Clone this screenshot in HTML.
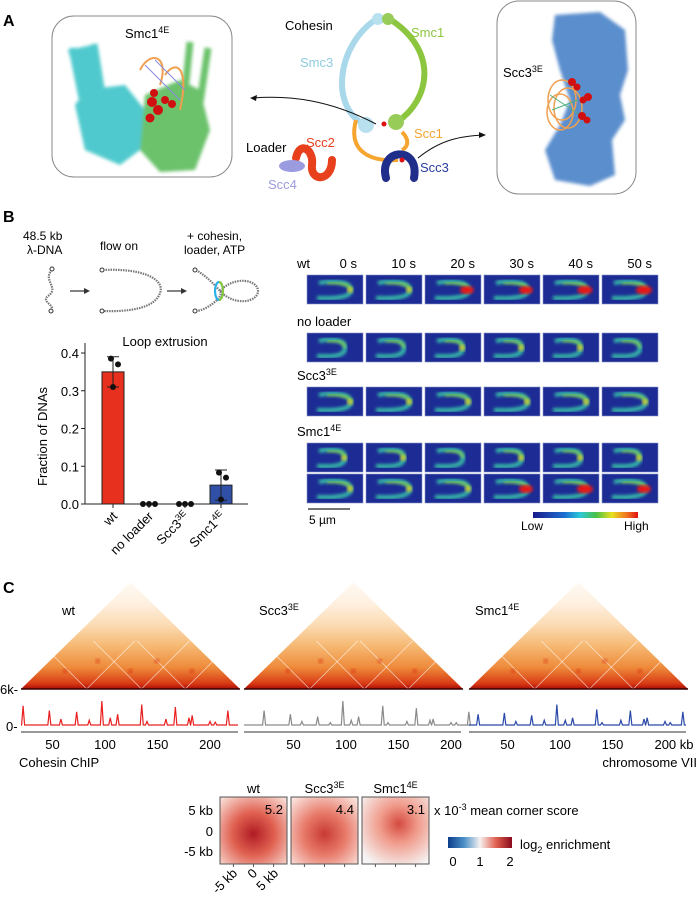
<!DOCTYPE html>
<html><head><meta charset="utf-8">
<style>
body{margin:0;background:#fff;}
svg{display:block;font-family:"Liberation Sans",Arial,sans-serif;}
</style></head>
<body>
<svg id="fig" width="699" height="899" viewBox="0 0 699 899" xmlns="http://www.w3.org/2000/svg">
<defs>
  <filter id="blur1"><feGaussianBlur stdDeviation="1.6"/></filter>
  <filter id="blur2"><feGaussianBlur stdDeviation="2.5"/></filter>
  <linearGradient id="triGrad" x1="0" y1="1" x2="0" y2="0">
    <stop offset="0" stop-color="#a80c06"/>
    <stop offset="0.05" stop-color="#d83a14"/>
    <stop offset="0.2" stop-color="#ee8a3a"/>
    <stop offset="0.4" stop-color="#f6b872"/>
    <stop offset="0.6" stop-color="#fbdcb4"/>
    <stop offset="0.8" stop-color="#fef0e0"/>
    <stop offset="1" stop-color="#fffaf4"/>
  </linearGradient>
  <linearGradient id="jetGrad" x1="0" y1="0" x2="1" y2="0">
    <stop offset="0" stop-color="#1a1a8a"/><stop offset="0.3" stop-color="#1c6fd0"/>
    <stop offset="0.45" stop-color="#2ec8d8"/><stop offset="0.6" stop-color="#48c048"/>
    <stop offset="0.75" stop-color="#e8e020"/><stop offset="0.9" stop-color="#f07020"/>
    <stop offset="1" stop-color="#e01010"/>
  </linearGradient>
  <linearGradient id="rbGrad" x1="0" y1="0" x2="1" y2="0">
    <stop offset="0" stop-color="#0c3d8a"/><stop offset="0.25" stop-color="#4a90c8"/>
    <stop offset="0.5" stop-color="#f6f2f0"/><stop offset="0.75" stop-color="#e06050"/>
    <stop offset="1" stop-color="#8a0a1c"/>
  </linearGradient>
  <radialGradient id="pu1" cx="0.5" cy="0.55" r="0.7"><stop offset="0" stop-color="#b01c24"/><stop offset="0.45" stop-color="#e06050"/><stop offset="1" stop-color="#f8dcd4"/></radialGradient>
  <radialGradient id="pu2" cx="0.5" cy="0.55" r="0.7"><stop offset="0" stop-color="#c83a34"/><stop offset="0.45" stop-color="#e87a6a"/><stop offset="1" stop-color="#fae4de"/></radialGradient>
  <radialGradient id="pu3" cx="0.55" cy="0.4" r="0.7"><stop offset="0" stop-color="#d44a40"/><stop offset="0.4" stop-color="#f09a8a"/><stop offset="1" stop-color="#f6f4f4"/></radialGradient>
</defs>

<!-- PANEL A -->
<text x="3" y="26" font-size="16" font-weight="bold">A</text>
<g>
  <rect x="52" y="16" width="180" height="161" rx="22" fill="#fff" stroke="#888" stroke-width="1"/>
  <g filter="url(#blur1)" opacity="0.9">
    <path d="M68,50 L82,95 L75,105 L85,150 L120,165 L140,150 L145,110 L125,85 L100,88 L92,45 Z" fill="#3cc4c8"/>
    <path d="M72,48 l10,50 M94,44 l8,50" stroke="#3cc4c8" stroke-width="7"/>
    <path d="M145,95 L180,80 L200,90 L210,130 L195,170 L160,172 L140,150 Z" fill="#5cbc5c"/>
    <path d="M190,42 l-6,60 M208,48 l-8,55" stroke="#5cbc5c" stroke-width="7"/>
  </g>
  <path d="M140,70 C150,50 170,55 160,85 M165,75 C175,60 190,65 180,110" fill="none" stroke="#f0a050" stroke-width="2"/>
  <path d="M145,65 L180,100 M155,60 L185,90" stroke="#8a8ae0" stroke-width="1"/>
  <g fill="#d01010">
    <circle cx="152" cy="102" r="5"/><circle cx="158" cy="110" r="5"/><circle cx="150" cy="118" r="4.5"/>
    <circle cx="165" cy="100" r="4"/><circle cx="172" cy="104" r="4"/><circle cx="154" cy="93" r="4"/>
  </g>
  <text x="125" y="38" font-size="13">Smc1<tspan dy="-5" font-size="9">4E</tspan></text>
</g>

<g>
  <text x="285" y="30" font-size="13">Cohesin</text>
  <path d="M378,18 C335,45 330,110 366,125" fill="none" stroke="#a8d8ea" stroke-width="6"/>
  <path d="M388,18 C440,50 430,100 397,122" fill="none" stroke="#8cc63f" stroke-width="6"/>
  <circle cx="378" cy="19" r="6" fill="#b8e0ee"/><circle cx="388" cy="19" r="6" fill="#98cc58"/>
  <path d="M356,120 C348,150 368,162 398,160" fill="none" stroke="#f7a531" stroke-width="4"/>
  <path d="M402,132 C410,140 408,147 402,150" fill="none" stroke="#f7a531" stroke-width="4"/>
  <circle cx="366" cy="125" r="8" fill="#b8e0ee"/><circle cx="396" cy="122" r="8" fill="#98cc58"/>
  <circle cx="384" cy="124" r="2.5" fill="#e01010"/>
  <path d="M386,178 C378,148 420,145 414,178" fill="none" stroke="#1f2e8a" stroke-width="8" stroke-linecap="round"/>
  <circle cx="402" cy="160" r="2.5" fill="#e01010"/>
  <path d="M296,158 C300,140 314,150 312,165 C310,182 332,182 332,160" fill="none" stroke="#e8401c" stroke-width="8" stroke-linecap="round"/>
  <ellipse cx="292" cy="166" rx="13" ry="6" fill="#9b9be0"/>
  <text x="411" y="37" font-size="13" fill="#8cc63f">Smc1</text>
  <text x="300" y="67" font-size="13" fill="#8ccbe0">Smc3</text>
  <text x="414" y="138" font-size="13" fill="#f7a531">Scc1</text>
  <text x="420" y="172" font-size="13" fill="#2a3ca0">Scc3</text>
  <text x="246" y="152" font-size="13">Loader</text>
  <text x="306" y="147" font-size="13" fill="#e8401c">Scc2</text>
  <text x="268" y="189" font-size="13" fill="#9b9be0">Scc4</text>
  <path d="M376,124 C330,100 290,95 252,98" fill="none" stroke="#111" stroke-width="1"/>
  <path d="M250,98 l7,-3 l-1,6 z" fill="#111"/>
  <path d="M418,158 C440,140 460,136 484,135" fill="none" stroke="#111" stroke-width="1"/>
  <path d="M486,135 l-7,-3 l0,6 z" fill="#111"/>
</g>

<g>
  <rect x="497" y="1" width="139" height="193" rx="22" fill="#fff" stroke="#888" stroke-width="1"/>
  <g filter="url(#blur1)" opacity="0.9">
    <path d="M555,15 L600,12 L625,30 L628,70 L620,95 L625,120 L612,140 L615,175 L590,186 L555,180 L545,150 L560,125 L570,100 L560,70 L552,40 Z" fill="#4a82c8"/>
  </g>
  <g fill="none" stroke="#f0a050" stroke-width="1.5">
    <ellipse cx="562" cy="100" rx="14" ry="20"/><ellipse cx="568" cy="108" rx="14" ry="20"/><ellipse cx="560" cy="112" rx="13" ry="18"/>
  </g>
  <path d="M550,95 L580,115 M552,110 L578,100" stroke="#50b080" stroke-width="1"/>
  <g fill="#d01010"><circle cx="572" cy="82" r="4"/><circle cx="577" cy="87" r="3.5"/><circle cx="588" cy="97" r="4"/><circle cx="583" cy="100" r="3.5"/><circle cx="582" cy="116" r="4"/><circle cx="587" cy="120" r="3.5"/></g>
  <text x="503" y="77" font-size="13">Scc3<tspan dy="-5" font-size="9">3E</tspan></text>
</g>

<!-- PANEL B -->
<text x="3" y="222" font-size="16" font-weight="bold">B</text>
<g font-size="12">
  <text x="23" y="240">48.5 kb</text>
  <text x="27" y="254">λ-DNA</text>
  <text x="100" y="250">flow on</text>
  <text x="187" y="240">+ cohesin,</text>
  <text x="184" y="254">loader, ATP</text>
  <path d="M52,270 C42,280 60,288 48,296 C40,302 58,306 50,311" fill="none" stroke="#777" stroke-width="2.2" stroke-dasharray="1.5 1"/>
  <circle cx="52" cy="269" r="2" fill="#fff" stroke="#333"/><circle cx="51" cy="311" r="2" fill="#fff" stroke="#333"/>
  <path d="M70,291 h16" stroke="#333" stroke-width="1.2"/><path d="M90,291 l-6,-3 v6 z" fill="#333"/>
  <path d="M103,270 C145,268 165,280 160,293 C155,308 130,312 103,311" fill="none" stroke="#777" stroke-width="2.2" stroke-dasharray="1.5 1"/>
  <circle cx="102" cy="270" r="2" fill="#fff" stroke="#333"/><circle cx="102" cy="311" r="2" fill="#fff" stroke="#333"/>
  <path d="M167,291 h16" stroke="#333" stroke-width="1.2"/><path d="M187,291 l-6,-3 v6 z" fill="#333"/>
  <path d="M196,270 C205,275 215,285 220,291 C225,297 205,311 196,311" fill="none" stroke="#777" stroke-width="2.2" stroke-dasharray="1.5 1"/>
  <path d="M220,291 C235,275 258,280 258,291 C258,302 235,307 220,291" fill="none" stroke="#777" stroke-width="2.2" stroke-dasharray="1.5 1"/>
  <circle cx="195" cy="270" r="2" fill="#fff" stroke="#333"/><circle cx="195" cy="311" r="2" fill="#fff" stroke="#333"/>
  <ellipse cx="219" cy="291" rx="4" ry="9" fill="none" stroke="#2ab0e8" stroke-width="2.2"/>
  <path d="M219,282 a4,9 0 0 1 0,18" fill="none" stroke="#8cc63f" stroke-width="2.2"/>
</g>

<g id="barchart"></g>
<g id="imgGrid"></g>

<g>
  <line x1="308" y1="509" x2="350" y2="509" stroke="#222" stroke-width="1.2"/>
  <text x="309" y="524" font-size="12">5 µm</text>
  <rect x="533" y="512" width="105" height="6" fill="url(#jetGrad)"/>
  <text x="521" y="530" font-size="12">Low</text>
  <text x="624" y="530" font-size="12">High</text>
</g>

<!-- PANEL C -->
<text x="3" y="593" font-size="16" font-weight="bold">C</text>
<g id="hic"></g>
<g id="pileup"></g>
</svg>

<script>
const NS="http://www.w3.org/2000/svg";
function mk(tag,attrs,parent){const e=document.createElementNS(NS,tag);for(const k in attrs)e.setAttribute(k,attrs[k]);parent.appendChild(e);return e;}

// ---------- Bar chart data ----------
const barCategories=["wt","no loader","Scc3","Smc1"];
const barSup=["","","3E","4E"];
const barValues=[0.35,0,0,0.05];
const barErrLow=[0.31,0,0,0.01];
const barErrHigh=[0.39,0,0,0.09];
const barPoints=[[0.385,0.37,0.31],[0,0,0],[0,0,0],[0.083,0.07,0.012]];
const barColors=["#e8301e","#e8301e","#e8301e","#3050a8"];
const yTicks=[0.0,0.1,0.2,0.3,0.4];

(function(){
  const g=document.getElementById('barchart');
  const x0=85,x1=248,yB=504,yT=353;
  const yS=v=>yB-(v/0.4)*(yB-yT);
  const xS=i=>113+i*36;
  const t=mk('text',{x:165,y:346,'font-size':13,'text-anchor':'middle'},g);t.textContent="Loop extrusion";
  
  
  const yl=mk('text',{x:0,y:0,'font-size':13,'text-anchor':'middle',transform:`translate(47,${(yB+yT)/2+8}) rotate(-90)`},g);yl.textContent="Fraction of DNAs";
  
  
  mk('line',{x1:x0,y1:yT-10,x2:x0,y2:yB,stroke:'#222','stroke-width':1},g);
  mk('line',{x1:x0,y1:yB,x2:x1,y2:yB,stroke:'#222','stroke-width':1},g);
  yTicks.forEach(v=>{
    mk('line',{x1:x0-4,y1:yS(v),x2:x0,y2:yS(v),stroke:'#222'},g);
    const tl=mk('text',{x:x0-6,y:yS(v)+5,'font-size':13,'text-anchor':'end'},g);tl.textContent=v.toFixed(1);
    
    
  });
  barCategories.forEach((c,i)=>{
    const cx=xS(i);
    if(barValues[i]>0){
      const r=mk('rect',{x:cx-11,y:yS(barValues[i]),width:22,height:yB-yS(barValues[i]),fill:barColors[i],stroke:'#222','stroke-width':1},g);
      
      
      const e=mk('path',{d:`M${cx},${yS(barErrLow[i])}V${yS(barErrHigh[i])}M${cx-6},${yS(barErrHigh[i])}h12M${cx-6},${yS(barErrLow[i])}h12`,stroke:'#222',fill:'none','stroke-width':1},g);
      
      
    }
    barPoints[i].forEach((p,j)=>{
      const d=mk('circle',{cx:cx-6+j*6+(barValues[i]>0?[-2,5,0][j]-(j*6-6):0),cy:yS(p),r:3,fill:'#111'},g);
      
      
    });
    mk('line',{x1:cx,y1:yB,x2:cx,y2:yB+4,stroke:'#222'},g);
    const lab=mk('text',{x:0,y:0,'font-size':13,'text-anchor':'end',transform:`translate(${cx+5},${yB+13}) rotate(-45)`},g);
    lab.textContent=c;
    if(barSup[i]){const ts=mk('tspan',{dy:-5,'font-size':9},lab);ts.textContent=barSup[i];}
    
    
  });
})();

// ---------- Image grid ----------
const timeLabels=["0 s","10 s","20 s","30 s","40 s","50 s"];
const rowLabels=["wt","no loader","Scc3","Smc1",""];
const rowSup=["","","3E","4E",""];
const rowTops=[275,333,387,443,474];
const spotIntensity=[[0.2,0.1,0.8,0.8,0.9,1.0],[0,0,0.1,0.1,0.1,0],[0.15,0.1,0.1,0.15,0.1,0.15],[0.1,0.05,0,0.15,0.1,0.1],[0.3,0.2,0.1,0.8,1.0,0.8]];
(function(){
  const g=document.getElementById('imgGrid');
  const colX=i=>307+i*59;
  timeLabels.forEach((t,i)=>{const e=mk('text',{x:colX(i)+50,y:268,'font-size':13,'text-anchor':'end'},g);e.textContent=t;
    
    });
  const lblY=[268,326,380,436];
  rowLabels.forEach((l,r)=>{
    if(l){const e=mk('text',{x:297,y:lblY[r],'font-size':13},g);e.textContent=l;
      if(rowSup[r]){const s=mk('tspan',{dy:-5,'font-size':9},e);s.textContent=rowSup[r];}
      
      }
    for(let c=0;c<6;c++){
      const x=colX(c),y=rowTops[r];
      const cell=mk('g',{},g);
      
      
      mk('rect',{x:x,y:y,width:56,height:29,fill:'#1c2c94',stroke:'#8890c8','stroke-width':0.6},cell);
      const tip=x+44-(r==1||r==3?6:0);
      mk('path',{d:`M${x+12},${y+8} C${x+30},${y+4} ${tip},${y+8} ${tip},${y+15} C${tip},${y+22} ${x+30},${y+24} ${x+10},${y+23}`,fill:'none',stroke:'#38c0a8','stroke-width':4,filter:'url(#blur1)'},cell);
      mk('path',{d:`M${x+20},${y+8} C${x+32},${y+7} ${tip},${y+10} ${tip},${y+15}`,fill:'none',stroke:'#9cd838','stroke-width':2,filter:'url(#blur1)'},cell);
      const s=spotIntensity[r][c];
      if(s>0.3){mk('ellipse',{cx:tip-2,cy:y+15,rx:3+5*s,ry:2+2.5*s,fill:'#e81818',filter:'url(#blur1)'},cell);}
      else if(s>0){mk('circle',{cx:tip-1,cy:y+15,r:3,fill:'#e8d020',opacity:0.8,filter:'url(#blur1)'},cell);}
    }
  });
})();

// ---------- Hi-C + ChIP ----------
const chipPositions=[22,47,58,73,85,97,105,112,135,140,158,167,180,183,200,205,217];
const chipWt=[0.8,0.6,0.25,0.55,0.2,1.0,0.3,0.45,0.85,0.15,0.25,0.75,0.3,0.4,0.15,0.12,0.6];
const chipScc3=[0.6,0.45,0.15,0.35,0.1,1.0,0.2,0.35,0.8,0.1,0.15,0.7,0.2,0.25,0.1,0.1,0.55];
const chipSmc1=[0.45,0.5,0.15,0.4,0.2,0.85,0.2,0.3,0.65,0.1,0.2,0.6,0.25,0.3,0.15,0.1,0.55];
const xTicks=[50,100,150,200];
const hicNames=["wt","Scc3","Smc1"];
const hicSup=["","3E","4E"];
const chipColors=["#e82020","#8a8a8a","#2a48a8"];
(function(){
  const g=document.getElementById('hic');
  const offs=[21,244,469];const w=219;
  const tickShift=[0,241,455];
  const kbS=1.05;const kb0=20;
  const allChip=[chipWt,chipScc3,chipSmc1];
  const base=689,apex=582;
  const chipBase=725,chipH=24;
  offs.forEach((o,k)=>{
    const xk=v=>21+tickShift[k]+(v-kb0)*kbS;
    const tri=mk('polygon',{points:`${o},${base} ${o+w/2},${apex} ${o+w},${base}`,fill:'url(#triGrad)'},g);
    
    
    [0.3,0.55,0.75].forEach(f=>{
      const px=o+w*f;
      mk('line',{x1:px,y1:base,x2:px+(base-apex)*0.45,y2:base-(base-apex)*0.45,stroke:'#fff','stroke-width':0.7,opacity:0.7},g);
      mk('line',{x1:px,y1:base,x2:px-(base-apex)*0.45,y2:base-(base-apex)*0.45,stroke:'#fff','stroke-width':0.7,opacity:0.7},g);
    });
    [0.2,0.35,0.5,0.62,0.78].forEach((f,i)=>{mk('circle',{cx:o+w*f,cy:base-18-(i%2)*10,r:2.5,fill:'#d83010',opacity:0.6,filter:'url(#blur1)'},g);});
    mk('line',{x1:o,y1:base,x2:o+w,y2:base,stroke:'#300',"stroke-width":1.5},g);
    const lab=mk('text',{x:[62,259,475][k],y:615,'font-size':13},g);lab.textContent=hicNames[k];
    if(hicSup[k]){const s=mk('tspan',{dy:-5,'font-size':9},lab);s.textContent=hicSup[k];}
    
    
    let d=`M${o},${chipBase}`;
    const vals=allChip[k];
    chipPositions.forEach((p,i)=>{
      const x=xk(p);
      d+=` L${x-1.5},${chipBase} L${x},${chipBase-vals[i]*chipH} L${x+1.5},${chipBase}`;
    });
    d+=` L${o+w-2},${chipBase}`;
    const tr=mk('path',{d:d,fill:'none',stroke:chipColors[k],'stroke-width':1.2},g);
    
    
    mk('line',{x1:o,y1:732,x2:o+w-2,y2:732,stroke:'#999','stroke-width':2},g);
    xTicks.forEach(v=>{
      const t=mk('text',{x:xk(v),y:749,'font-size':13,'text-anchor':'middle'},g);t.textContent=(k==2&&v==200)?"200 kb":v;
      if(k==2&&v==200)t.setAttribute('x',xk(v)+9);
      
      
    });
  });
  const a=mk('text',{x:0,y:694,'font-size':13},g);a.textContent="6k-";
  
  
  const b=mk('text',{x:6,y:731,'font-size':13},g);b.textContent="0-";
  
  
  const c=mk('text',{x:19,y:767,'font-size':13},g);c.textContent="Cohesin ChIP";
  
  
  const d2=mk('text',{x:697,y:767,'font-size':13,'text-anchor':'end'},g);d2.textContent="chromosome VII";
  
  
})();

// ---------- Pile-ups ----------
const pileupNames=["wt","Scc3","Smc1"];
const pileupSup=["","3E","4E"];
const cornerScores=["5.2","4.4","3.1"];
(function(){
  const g=document.getElementById('pileup');
  const xs=[220,291,362];const y=797,s=67;
  pileupNames.forEach((n,i)=>{
    const r=mk('rect',{x:xs[i],y:y,width:s,height:s,fill:`url(#pu${i+1})`,stroke:'#555','stroke-width':1},g);
    
    
    const t=mk('text',{x:xs[i]+s/2,y:y-4,'font-size':13,'text-anchor':'middle'},g);t.textContent=n;
    if(pileupSup[i]){const sp=mk('tspan',{dy:-5,'font-size':9},t);sp.textContent=pileupSup[i];}
    
    
    const sc=mk('text',{x:xs[i]+s-4,y:y+17,'font-size':13,'text-anchor':'end'},g);sc.textContent=cornerScores[i];
    
    
    [0.2,0.5,0.8].forEach(f=>mk('line',{x1:xs[i]+s*f,y1:y+s,x2:xs[i]+s*f,y2:y+s+3,stroke:'#555'},g));
  });
  [["5 kb",811],["0",832],["-5 kb",852]].forEach(([l,yy])=>{
    const t=mk('text',{x:213,y:yy+4,'font-size':13,'text-anchor':'end'},g);t.textContent=l;
    
    
  });
  [["-5 kb",233],["0",253],["5 kb",274]].forEach(([l,xx])=>{
    const t=mk('text',{x:0,y:0,'font-size':13,'text-anchor':'end',transform:`translate(${xx+5},${y+s+10}) rotate(-45)`},g);t.textContent=l;
    
    
  });
  const m=mk('text',{x:434,y:815,'font-size':13},g);m.textContent="x 10";
  const ms=mk('tspan',{dy:-5,'font-size':9},m);ms.textContent="-3";
  const mt=mk('tspan',{dy:5},m);mt.textContent=" mean corner score";
  
  
  const cb=mk('rect',{x:448,y:837,width:64,height:11,fill:'url(#rbGrad)'},g);
  
  
  [["0",453],["1",480],["2",510]].forEach(([l,xx])=>{
    const t=mk('text',{x:xx,y:866,'font-size':13,'text-anchor':'middle'},g);t.textContent=l;
    
    
  });
  const e=mk('text',{x:520,y:849,'font-size':13},g);e.textContent="log";
  const es=mk('tspan',{dy:4,'font-size':9},e);es.textContent="2";
  const et=mk('tspan',{dy:-4},e);et.textContent=" enrichment";
  
  
})();
</script>
</body></html>
